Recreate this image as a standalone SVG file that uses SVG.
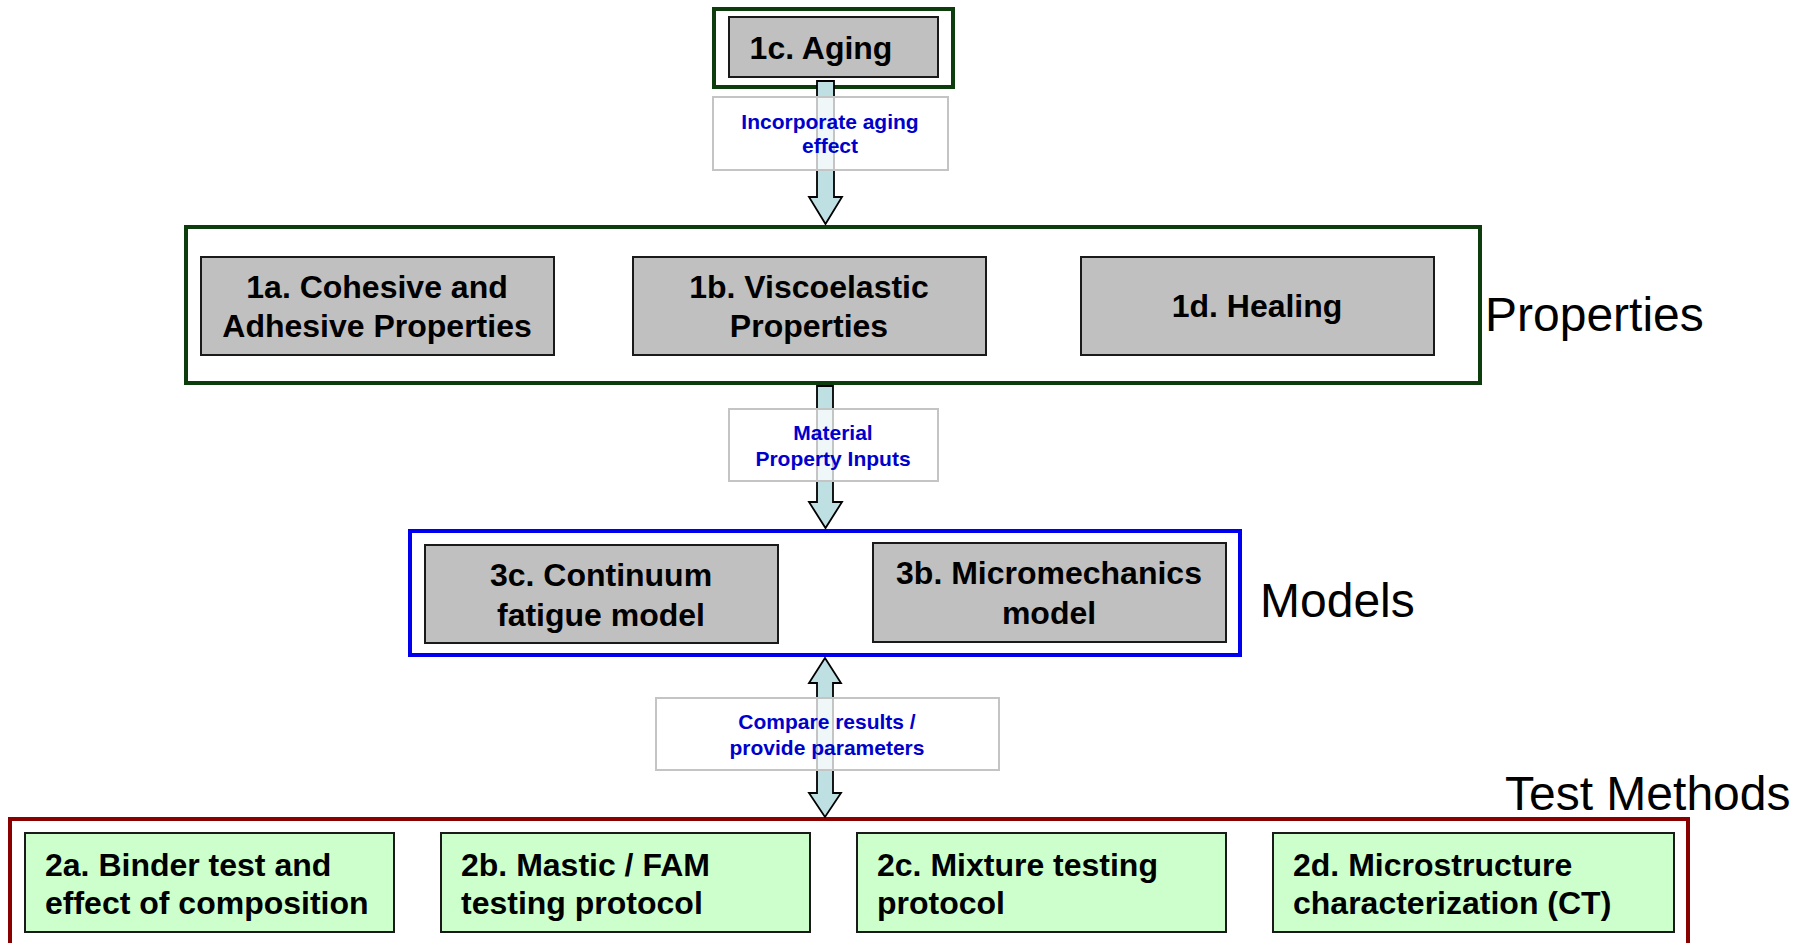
<svg xmlns="http://www.w3.org/2000/svg" width="1801" height="943" viewBox="0 0 1801 943">
<style>
.grp{fill:none;stroke-width:4}
.gray{fill:#c0c0c0;stroke:#1a1a1a;stroke-width:2}
.green{fill:#ccffcc;stroke:#1a1a1a;stroke-width:2}
.nt{font-family:"Liberation Sans",Arial,sans-serif;font-weight:bold;font-size:32px;fill:#000}
.ct{text-anchor:middle}
.lbl{fill:#ffffff;fill-opacity:0.75;stroke:#c4c4c4;stroke-width:2}
.lt{font-family:"Liberation Sans",Arial,sans-serif;font-weight:bold;font-size:21px;fill:#0000cc;text-anchor:middle}
.big{font-family:"Liberation Sans",Arial,sans-serif;font-size:48px;fill:#000}
.arr{fill:#bfe0e3;stroke:#000;stroke-width:1.8;stroke-linejoin:miter}
</style>
<rect width="1801" height="943" fill="#ffffff"/>

<g id="group-aging">
<rect class="grp" x="714" y="9" width="239" height="78" stroke="#0d3d0d"/>
</g>
<g id="group-properties">
<rect class="grp" x="186" y="227" width="1294" height="156" stroke="#0d3d0d"/>
<text class="big" x="1485" y="331">Properties</text>
</g>
<g id="group-models">
<rect class="grp" x="410" y="531" width="830" height="124" stroke="#0000ee"/>
<text class="big" x="1260" y="617">Models</text>
</g>
<g id="group-tests">
<rect class="grp" x="10" y="819" width="1678" height="160" stroke="#880000"/>
<text class="big" x="1505" y="810">Test Methods</text>
</g>

<g id="node-1c">
<rect class="gray" x="729" y="17" width="209" height="60"/>
<text class="nt ct" x="821" y="59">1c. Aging</text>
</g>
<g id="node-1a">
<rect class="gray" x="201" y="257" width="353" height="98"/>
<text class="nt ct" x="377" y="298">1a. Cohesive and</text>
<text class="nt ct" x="377" y="337">Adhesive Properties</text>
</g>
<g id="node-1b">
<rect class="gray" x="633" y="257" width="353" height="98"/>
<text class="nt ct" x="809" y="298">1b. Viscoelastic</text>
<text class="nt ct" x="809" y="337">Properties</text>
</g>
<g id="node-1d">
<rect class="gray" x="1081" y="257" width="353" height="98"/>
<text class="nt ct" x="1257" y="317">1d. Healing</text>
</g>
<g id="node-3c">
<rect class="gray" x="425" y="545" width="353" height="98"/>
<text class="nt ct" x="601" y="586">3c. Continuum</text>
<text class="nt ct" x="601" y="626">fatigue model</text>
</g>
<g id="node-3b">
<rect class="gray" x="873" y="543" width="353" height="99"/>
<text class="nt ct" x="1049" y="584">3b. Micromechanics</text>
<text class="nt ct" x="1049" y="624">model</text>
</g>
<g id="node-2a">
<rect class="green" x="25" y="833" width="369" height="99"/>
<text class="nt" x="45" y="876">2a. Binder test and</text>
<text class="nt" x="45" y="914">effect of composition</text>
</g>
<g id="node-2b">
<rect class="green" x="441" y="833" width="369" height="99"/>
<text class="nt" x="461" y="876">2b. Mastic / FAM</text>
<text class="nt" x="461" y="914">testing protocol</text>
</g>
<g id="node-2c">
<rect class="green" x="857" y="833" width="369" height="99"/>
<text class="nt" x="877" y="876">2c. Mixture testing</text>
<text class="nt" x="877" y="914">protocol</text>
</g>
<g id="node-2d">
<rect class="green" x="1273" y="833" width="401" height="99"/>
<text class="nt" x="1293" y="876">2d. Microstructure</text>
<text class="nt" x="1293" y="914">characterization (CT)</text>
</g>

<g id="connectors">
<polygon class="arr" points="817,81 834,81 834,197 842,197 825.5,224 809,197 817,197"/>
<polygon class="arr" points="817,386 833,386 833,502 842,502 825.5,528 809,502 817,502"/>
<polygon class="arr" points="825,658 841,683 833,683 833,793 841,793 825,817 809,793 817,793 817,683 809,683"/>
<g id="label-aging">
<rect class="lbl" x="713" y="97" width="235" height="73"/>
<text class="lt" x="830" y="129">Incorporate aging</text>
<text class="lt" x="830" y="153">effect</text>
</g>
<g id="label-inputs">
<rect class="lbl" x="729" y="409" width="209" height="72"/>
<text class="lt" x="833" y="440">Material</text>
<text class="lt" x="833" y="466">Property Inputs</text>
</g>
<g id="label-compare">
<rect class="lbl" x="656" y="698" width="343" height="72"/>
<text class="lt" x="827" y="729">Compare results /</text>
<text class="lt" x="827" y="755">provide parameters</text>
</g>
</g>
</svg>
